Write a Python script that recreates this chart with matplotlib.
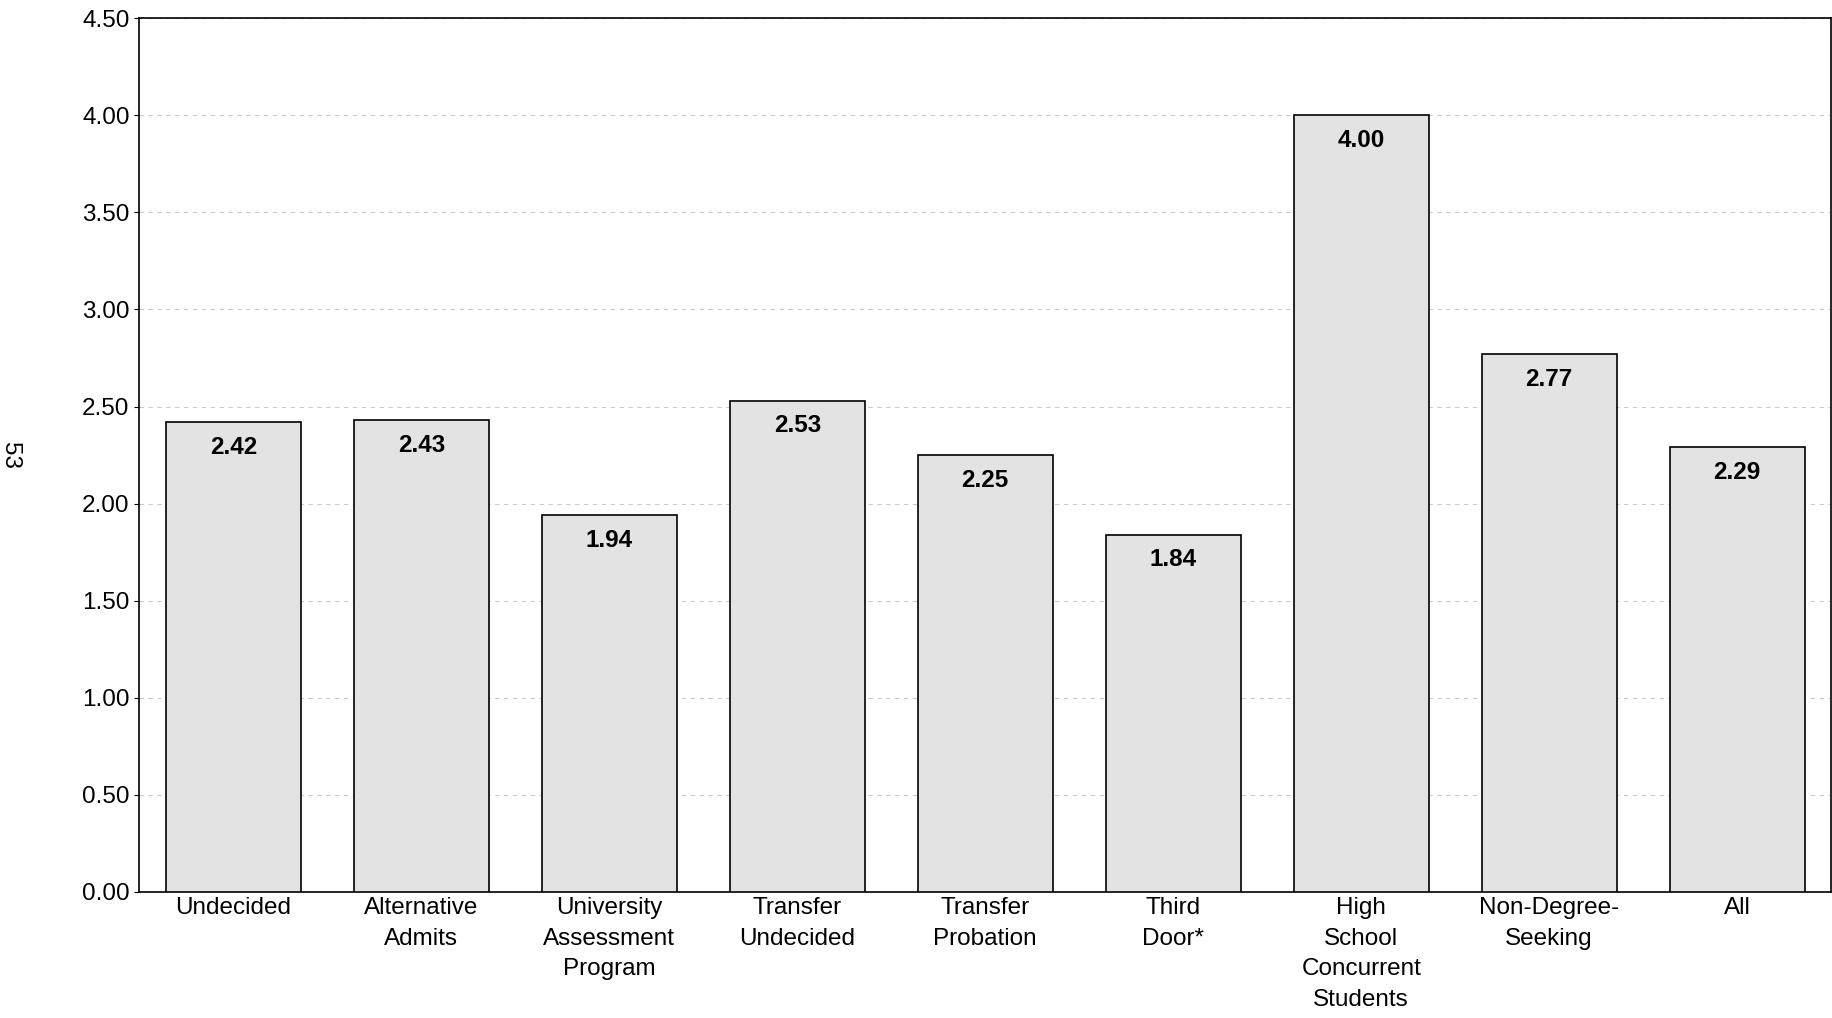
import matplotlib.pyplot as plt
import numpy as np

categories = ["Undecided", "Alternative\nAdmits", "University\nAssessment\nProgram",
              "Transfer\nUndecided", "Transfer\nProbation", "Third\nDoor*",
              "High\nSchool\nConcurrent\nStudents", "Non-Degree-\nSeeking", "All"]
values = [2.42, 2.43, 1.94, 2.53, 2.25, 1.84, 4.00, 2.77, 2.29]

plt.rcParams['font.family'] = ['Liberation Sans', 'DejaVu Sans']
fig = plt.figure(figsize=(18.33, 10.18), dpi=100)
ax = fig.add_axes([0.076, 0.124, 0.923, 0.858])

X = np.arange(len(categories))
ax.bar(X, values, width=0.72, color="#e3e3e3", edgecolor="black", linewidth=1.2, zorder=3)
for x, v in zip(X, values):
    ax.text(x, v - 0.07, "%.2f" % v, ha="center", va="top", fontsize=17.5, fontweight="bold", zorder=4)

ax.set_xlim(-0.5, len(categories) - 0.5)
ax.set_ylim(0, 4.5)
ax.set_yticks(np.arange(0, 4.51, 0.5))
ax.set_yticklabels(["%.2f" % t for t in np.arange(0, 4.51, 0.5)])
ax.set_xticks(X)
ax.set_xticklabels(categories, fontsize=17.5, linespacing=1.5)
ax.tick_params(axis="y", labelsize=17.5)
ax.tick_params(axis="x", length=0, pad=4)
ax.grid(axis="y", color="#cccccc", linestyle=(0, (4, 4)), linewidth=0.8, zorder=0)
for s in ax.spines.values():
    s.set_linewidth(1.2)
ax.set_ylabel("53", fontsize=17.5, rotation=270, labelpad=60, va="bottom")

plt.savefig("out.png")
